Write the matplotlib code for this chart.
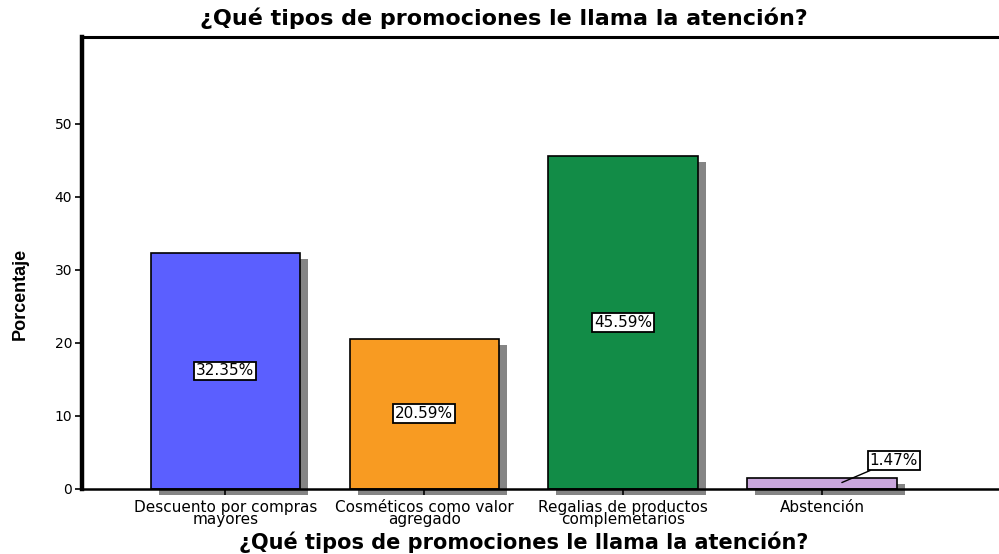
import matplotlib
matplotlib.use("Agg")
import matplotlib.pyplot as plt
import matplotlib.transforms as mtransforms

# Datos
categorias = ["Descuento por compras\nmayores", "Cosméticos como valor\nagregado",
              "Regalias de productos\ncomplemetarios", "Abstención"]
porcentajes = [32.35, 20.59, 45.59, 1.47]
colores = ["#5b5fff", "#f89b22", "#128c47", "#c9a6dc"]
titulo = "¿Qué tipos de promociones le llama la atención?"

plt.rcParams['font.family'] = ['DejaVu Sans']

fig = plt.figure(figsize=(9.99, 5.54), dpi=100)
ax = fig.add_axes([82 / 999, 65 / 554, 1 - 82 / 999, (489 - 37) / 554])

x = list(range(len(categorias)))
ancho = 0.75

# Sombra desplazada de cada barra
sombra = ax.transData + mtransforms.ScaledTranslation(8 / 100, -6 / 100, fig.dpi_scale_trans)
ax.bar(x, porcentajes, width=ancho, color="#858585", edgecolor="none",
       transform=sombra, clip_on=False, zorder=1)
ax.bar(x, porcentajes, width=ancho, color=colores, edgecolor="black",
       linewidth=1.2, zorder=2)

# Etiquetas con el porcentaje
caja = dict(boxstyle="square,pad=0.12", facecolor="white", edgecolor="black", linewidth=1.3)
for i, v in enumerate(porcentajes[:3]):
    ax.text(i, v / 2, f"{v:.2f}%", ha="center", va="center", fontsize=11,
            bbox=caja, zorder=4)
ax.annotate(f"{porcentajes[3]:.2f}%", xy=(3.1, porcentajes[3] * 0.6), xytext=(3.36, 3.9),
            ha="center", va="center", fontsize=11, bbox=caja, zorder=4,
            arrowprops=dict(arrowstyle="-", color="black", lw=1, shrinkA=0, shrinkB=0))

ax.set_xlim(-0.72, 3.89)
ax.set_ylim(0, 61.9)
ax.set_yticks([0, 10, 20, 30, 40, 50])
ax.set_xticks(x)
ax.set_xticklabels(categorias, fontsize=11, linespacing=0.78)
ax.tick_params(axis="y", length=5, width=1.2, labelsize=10, pad=2)
ax.tick_params(axis="x", length=4, width=1.2, pad=4)

ax.spines["right"].set_visible(False)
ax.spines["left"].set_linewidth(3.2)
ax.spines["top"].set_linewidth(2.2)
ax.spines["bottom"].set_linewidth(1.8)
ax.spines["bottom"].set_zorder(3)

fig.text(0.504, 0.967, titulo, ha="center", va="center", fontsize=16, fontweight="bold")
fig.text(0.524, 0.021, titulo, ha="center", va="center", fontsize=15, fontweight="bold")
fig.text(0.02, 0.469, "Porcentaje", rotation=90, ha="center", va="center",
         fontsize=13, fontweight="bold", family=["Liberation Sans Narrow", "Liberation Sans"])

fig.savefig("out.png", dpi=100)
